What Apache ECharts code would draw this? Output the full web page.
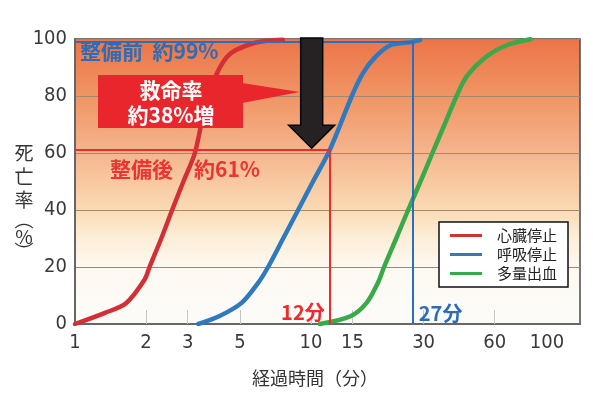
<!DOCTYPE html>
<html>
<head>
<meta charset="utf-8">
<script src="https://cdn.jsdelivr.net/npm/echarts@6/dist/echarts.min.js"></script>
<style>
html,body{margin:0;padding:0;background:#fff;}
#chart{width:593px;height:393px;}
</style>
</head>
<body>
<div id="chart"></div>
<script>
// Time axis (minutes, log scale) and mortality axis (%)
const xTickLabels = [1, 2, 3, 5, 10, 15, 30, 60, 100];
const xTickMarks = [2, 3, 5, 10, 15, 30, 60];
const yMin = 0, yMax = 100, yStep = 20;

const seriesNames = ['心臓停止', '呼吸停止', '多量出血'];
const seriesColors = ['#d22f36', '#2f79bf', '#3aa94a'];

// [minutes, mortality %]
const cardiacArrest = [[1,0],[1.34,3.9],[1.65,7.4],[1.97,15.5],[2.07,20],[2.32,30],[2.58,40],[2.88,50],[3.22,60],[3.66,80],[4.41,93.8],[5.69,98.5],[7.6,99.7]];
const respiratoryArrest = [[3.33,0],[4.08,2.7],[5.08,7.4],[5.97,14.4],[6.58,20],[7.62,30],[8.82,40],[10.2,50],[12,61],[14.9,80],[16.6,88],[18.8,93.8],[21.8,97.9],[27,99],[29,99.6]];
const massiveBleeding = [[10.9,0],[14.7,2.7],[17.2,7.4],[19.2,14.4],[20.4,20],[22.96,30],[25.8,40],[29.1,50],[32.7,60],[36.8,70],[41.4,80],[45.6,86.8],[55.3,93.8],[67.9,97.9],[85.2,99.9]];

// Reference levels: before / after improvement
const beforeRate = 99, beforeMinutes = 27;
const afterRate = 61, afterMinutes = 12;

const NUM_FONT = "'Liberation Sans Narrow','DejaVu Sans Condensed','Liberation Sans',sans-serif";
const JP_FONT = "'Noto Sans CJK JP','Noto Sans CJK SC',sans-serif";

const chart = echarts.init(document.getElementById('chart'), null, {renderer: 'canvas'});

function lineSeries(name, data, color, extra) {
  return Object.assign({
    name: name,
    type: 'line',
    data: data,
    smooth: 0.3,
    showSymbol: false,
    symbol: 'none',
    lineStyle: {color: color, width: 4.5, cap: 'round', join: 'round'},
    itemStyle: {color: color},
    z: 3
  }, extra || {});
}

function guide(points, color) {
  return {
    silent: true,
    symbol: ['none', 'none'],
    label: {show: false},
    lineStyle: {color: color, width: 2, type: 'solid'},
    emphasis: {disabled: true},
    data: points
  };
}

const option = {
  animation: false,
  grid: {
    left: 75, right: 13, top: 39, bottom: 69,
    show: true,
    borderColor: '#4a4a4a',
    borderWidth: 1.5,
    backgroundColor: new echarts.graphic.LinearGradient(0, 0, 0, 1, [
      {offset: 0, color: '#ec7447'},
      {offset: 0.2, color: '#f09464'},
      {offset: 0.4, color: '#f5b58d'},
      {offset: 0.6, color: '#fadbb4'},
      {offset: 0.69, color: '#fcedd6'},
      {offset: 0.8, color: '#fdf9f1'},
      {offset: 1, color: '#fbfbf9'}
    ])
  },
  xAxis: {
    type: 'log',
    logBase: 10,
    min: 1,
    max: 138,
    axisLine: {show: true, onZero: false, lineStyle: {color: '#666', width: 2}},
    axisTick: {show: true, inside: true, length: 14, customValues: xTickMarks, lineStyle: {color: '#c6c6c6', width: 1}},
    axisLabel: {customValues: xTickLabels, fontFamily: NUM_FONT, fontSize: 20, color: '#3a3a3a', margin: 9},
    splitLine: {show: false},
    minorTick: {show: false}
  },
  yAxis: {
    type: 'value',
    min: yMin, max: yMax, interval: yStep,
    axisLine: {show: true, lineStyle: {color: '#666', width: 2}},
    axisTick: {show: false},
    axisLabel: {fontFamily: NUM_FONT, fontSize: 20, color: '#3a3a3a', margin: 8},
    splitLine: {show: true, lineStyle: {color: '#a08878', width: 1}}
  },
  legend: {
    orient: 'vertical',
    left: 439, top: 222,
    padding: [6, 11, 6, 11],
    itemWidth: 32, itemHeight: 3, itemGap: 4,
    icon: 'rect',
    backgroundColor: '#fff',
    borderColor: '#111', borderWidth: 1.5, borderRadius: 0,
    textStyle: {fontFamily: JP_FONT, fontSize: 15, lineHeight: 15, color: '#222', padding: [0, 0, 0, 10]},
    data: seriesNames
  },
  series: [
    lineSeries(seriesNames[0], cardiacArrest, seriesColors[0], {
      markLine: guide([
        [{coord: [1, afterRate]}, {coord: [afterMinutes, afterRate]}],
        [{coord: [afterMinutes, afterRate]}, {coord: [afterMinutes, 0]}]
      ], '#ee2a2a')
    }),
    lineSeries(seriesNames[1], respiratoryArrest, seriesColors[1], {
      markLine: guide([
        [{coord: [1, beforeRate]}, {coord: [beforeMinutes, beforeRate]}],
        [{coord: [beforeMinutes, beforeRate]}, {coord: [beforeMinutes, 0]}]
      ], '#2a6fbe')
    }),
    lineSeries(seriesNames[2], massiveBleeding, seriesColors[2])
  ]
};

chart.setOption(option);

// Annotations placed from the axis scales
const corner = chart.convertToPixel({gridIndex: 0}, [afterMinutes, afterRate]);
const base27 = chart.convertToPixel({gridIndex: 0}, [beforeMinutes, 0]);
const base12 = chart.convertToPixel({gridIndex: 0}, [afterMinutes, 0]);
const topY = chart.convertToPixel({gridIndex: 0}, [1, yMax])[1];

const ax = corner[0] - 18;
const tipY = corner[1] - 2;
const headY = tipY - 23;

function txt(text, x, y, fill, font, align, z) {
  return {
    type: 'text', z: z || 20, silent: true,
    style: {text: text, x: x, y: y, fill: fill, font: font, align: align || 'left', verticalAlign: 'middle'}
  };
}

const boldJP = (s) => 'bold ' + s + 'px ' + JP_FONT;
const plainJP = (s) => s + 'px ' + JP_FONT;

const graphics = [
  // callout box with pointer toward the arrow
  {type: 'rect', z: 15, silent: true, shape: {x: 98, y: 75, width: 145, height: 53}, style: {fill: '#e8262b'}},
  {type: 'polygon', z: 15, silent: true, shape: {points: [[242, 83], [ax - 12, 92], [242, 103]]}, style: {fill: '#e8262b'}},
  txt('救命率', 171, 90, '#fff', boldJP(21), 'center'),
  txt('約38%増', 171, 115, '#fff', boldJP(21), 'center'),
  // downward arrow
  {type: 'polygon', z: 16, silent: true,
    shape: {points: [[ax - 11, topY - 1], [ax + 11, topY - 1], [ax + 11, headY], [ax + 23, headY], [ax, tipY], [ax - 23, headY], [ax - 11, headY]]},
    style: {fill: '#262223', stroke: '#050505', lineWidth: 1.5}},
  txt('整備前  約99%', 80, 51, '#2f6cb5', boldJP(21)),
  txt('整備後　約61%', 110, 169, '#ec3434', boldJP(21)),
  txt('12分', base12[0] - 5, 312, '#ee2a2a', boldJP(20), 'right'),
  txt('27分', base27[0] + 6, 313, '#2a6cb8', boldJP(20), 'left'),
  // axis titles
  txt('経過時間（分）', 315, 378, '#333', plainJP(18), 'center'),
  txt('死', 24, 153, '#333', plainJP(19), 'center'),
  txt('亡', 24, 177, '#333', plainJP(19), 'center'),
  txt('率', 24, 200, '#333', plainJP(19), 'center'),
  txt('︵', 24, 220, '#333', plainJP(19), 'center'),
  txt('%', 24, 237, '#333', plainJP(19), 'center'),
  txt('︶', 24, 252, '#333', plainJP(19), 'center')
];

chart.setOption({graphic: {elements: graphics}});
</script>
</body>
</html>
